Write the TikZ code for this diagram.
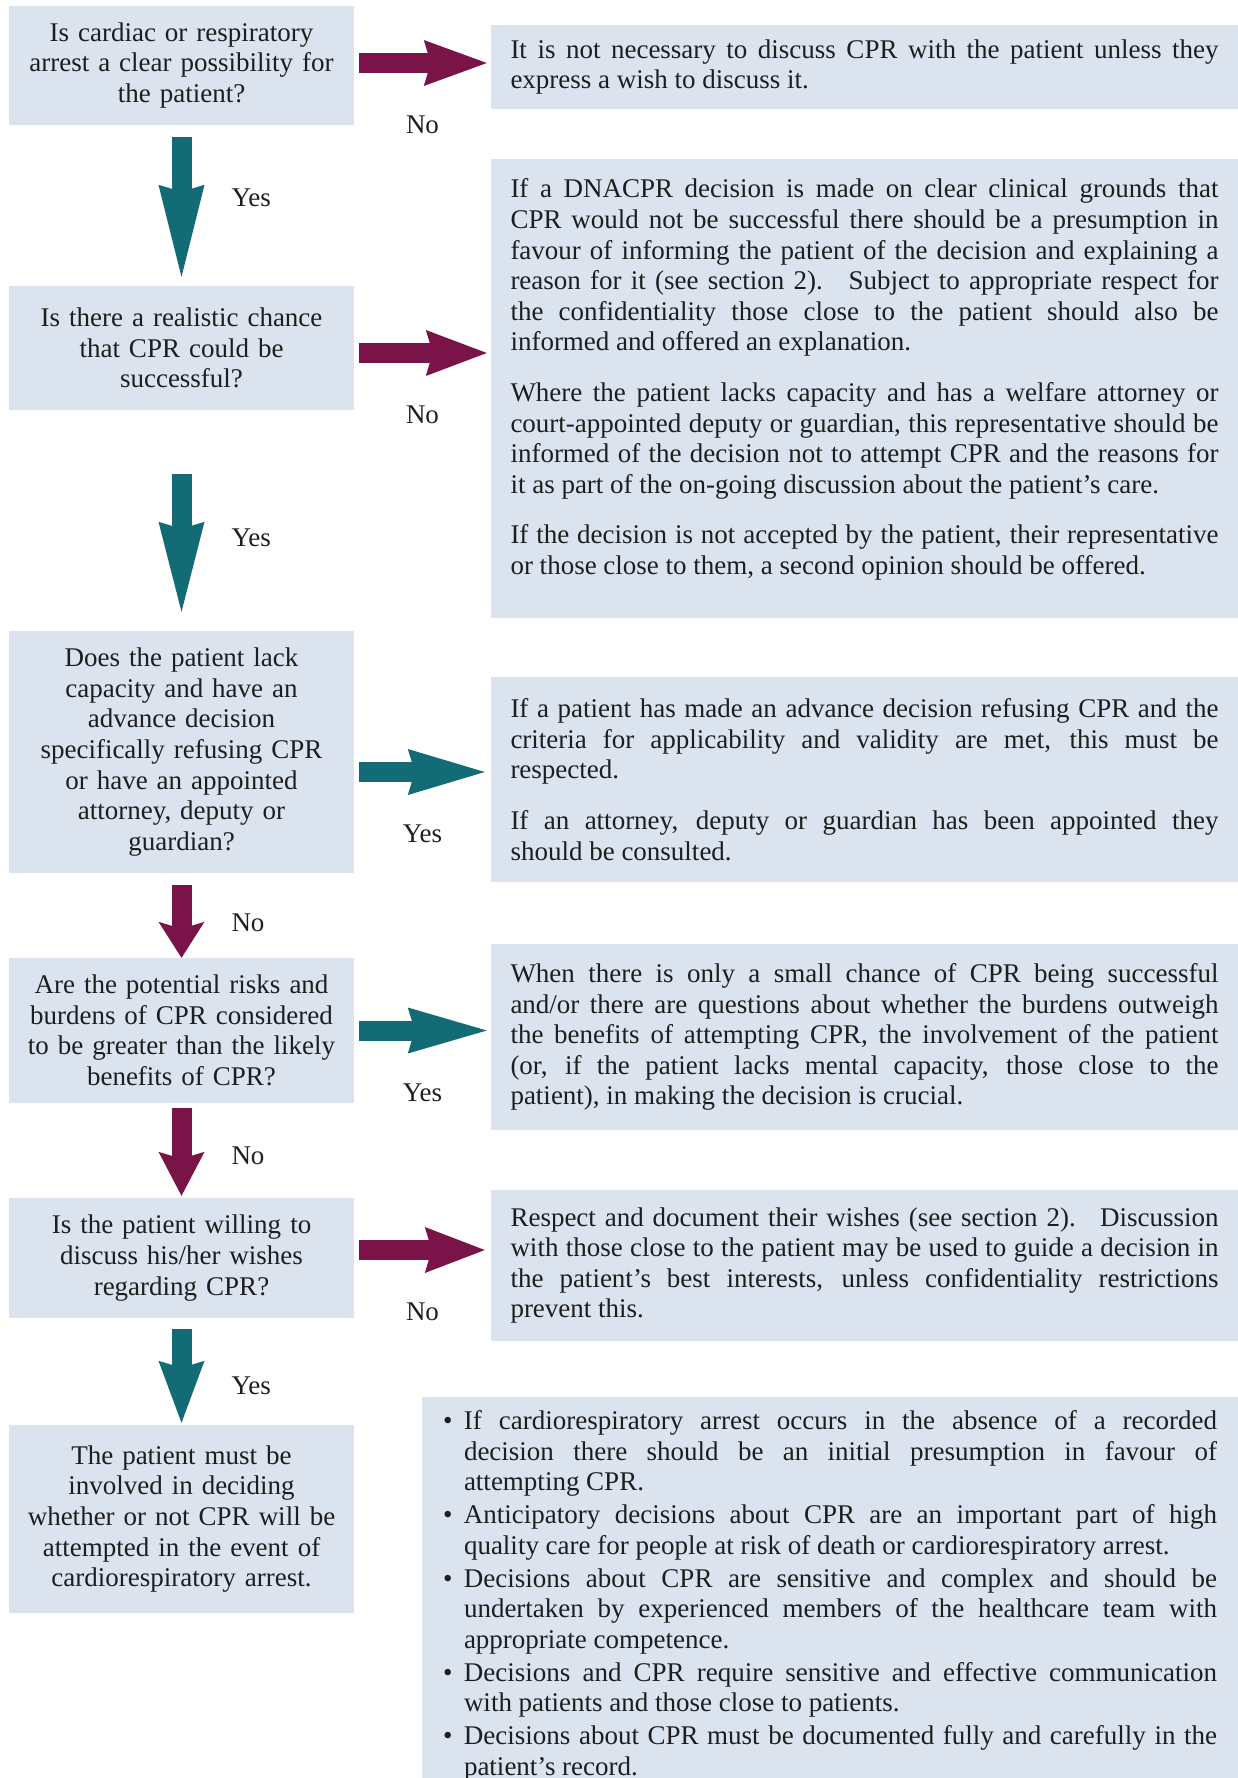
\documentclass[tikz,border=0pt]{standalone}
\usepackage{fontspec}
\setmainfont{Liberation Serif}
\usetikzlibrary{arrows.meta,positioning}
\definecolor{ink}{HTML}{1E1E1E}
\definecolor{boxfill}{HTML}{DBE3EF}
\definecolor{yesline}{HTML}{126B75}
\definecolor{noline}{HTML}{7A1448}
\newcommand{\boxfont}{\fontsize{27}{30.6}\selectfont}
\newcommand{\bitem}{\par\hangindent=21pt\hangafter=1\noindent\makebox[21pt][l]{\textbullet}}
\tikzset{
 every node/.append style={font=\boxfont,text=ink},
 ask/.style={fill=boxfill,text width=330pt,inner xsep=7.5pt,inner ysep=0pt,align=center},
 note/.style={fill=boxfill,text width=708pt,inner xsep=19.5pt,inner ysep=0pt,align=justify,execute at begin node={\setlength{\parskip}{20pt}}},
 word/.style={inner sep=0pt},
 flow/.style={line width=20pt,-{Stealth[length=#1,width=46pt,inset=7pt,line width=0pt]}},
 yesflow/.style={flow=#1,draw=yesline},
 noflow/.style={flow=#1,draw=noline},
}
\begin{document}
\begin{tikzpicture}[x=1pt,y=-1pt]

\useasboundingbox (0,0) rectangle (1238,1778);
% questions down the left
\node[ask,minimum height=119pt] (q1) at (181.5,65.5) {Is cardiac or respiratory\\arrest a clear possibility for\\the patient?};
\node[ask,minimum height=124pt] (q2) at (181.5,348) {Is there a realistic chance\\that CPR could be\\successful?};
\node[ask,minimum height=242pt] (q3) at (181.5,752) {Does the patient lack\\capacity and have an\\advance decision\\specifically refusing CPR\\or have an appointed\\attorney, deputy or\\guardian?};
\node[ask,minimum height=145pt] (q4) at (181.5,1030.5) {Are the potential risks and\\burdens of CPR considered\\to be greater than the likely\\benefits of CPR?};
\node[ask,minimum height=120pt] (q5) at (181.5,1258) {Is the patient willing to\\discuss his/her wishes\\regarding CPR?};
\node[ask,minimum height=188pt] (q6) at (181.5,1519) {The patient must be\\involved in deciding\\whether or not CPR will be\\attempted in the event of\\cardiorespiratory arrest.};
% guidance on the right
\node[note,minimum height=84pt] (r1) at (864.5,67) {It is not necessary to discuss CPR with the patient unless they\linebreak express a wish to discuss it.};
\node[note,minimum height=459pt] (r2) at (864.5,388.5) {If a DNACPR decision is made on clear clinical grounds that\linebreak CPR would not be successful there should be a presumption in\linebreak favour of informing the patient of the decision and explaining a\linebreak reason for it (see section 2). \ Subject to appropriate respect for\linebreak the confidentiality those close to the patient should also be\linebreak informed and offered an explanation.\par
Where the patient lacks capacity and has a welfare attorney or\linebreak court-appointed deputy or guardian, this representative should be\linebreak informed of the decision not to attempt CPR and the reasons for\linebreak it as part of the on-going discussion about the patient's care.\par
If the decision is not accepted by the patient, their representative\linebreak or those close to them, a second opinion should be offered.\par\vspace{18pt}};
\node[note,minimum height=205pt] (r3) at (864.5,779.5) {If a patient has made an advance decision refusing CPR and the\linebreak criteria for applicability and validity are met, this must be\linebreak respected.\par
If an attorney, deputy or guardian has been appointed they\linebreak should be consulted.};
\node[note,minimum height=186pt] (r4) at (864.5,1037) {When there is only a small chance of CPR being successful\linebreak and/or there are questions about whether the burdens outweigh\linebreak the benefits of attempting CPR, the involvement of the patient\linebreak (or, if the patient lacks mental capacity, those close to the\linebreak patient), in making the decision is crucial.};
\node[note,minimum height=151pt] (r5) at (864.5,1265.5) {Respect and document their wishes (see section 2). \ Discussion\linebreak with those close to the patient may be used to guide a decision in\linebreak the patient's best interests, unless confidentiality restrictions\linebreak prevent this.};
\node[note,text width=774pt,inner xsep=21pt,minimum height=378pt,execute at begin node={\setlength{\parskip}{2.3pt}}] (facts) at (830,1589) {%
\bitem If cardiorespiratory arrest occurs in the absence of a recorded\linebreak decision there should be an initial presumption in favour of\linebreak attempting CPR.
\bitem Anticipatory decisions about CPR are an important part of high\linebreak quality care for people at risk of death or cardiorespiratory arrest.
\bitem Decisions about CPR are sensitive and complex and should be\linebreak undertaken by experienced members of the healthcare team with\linebreak appropriate competence.
\bitem Decisions and CPR require sensitive and effective communication\linebreak with patients and those close to patients.
\bitem Decisions about CPR must be documented fully and carefully in the\linebreak patient's record.\par};
% down the questions
\draw[yesflow=92pt,shorten <=12pt,shorten >=9pt] (q1) -- node[word,pos=.45,right=40pt] {Yes} (q2);
\draw[yesflow=90pt,shorten <=64pt,shorten >=19pt] (q2) -- node[word,pos=.58,right=40pt] {Yes} (q3);
\draw[noflow=36pt,shorten <=12pt] (q3) -- node[word,pos=.59,right=40pt] {No} (q4);
\draw[noflow=44pt,shorten <=5pt,shorten >=2pt] (q4) -- node[word,pos=.56,right=40pt] {No} (q5);
\draw[yesflow=62pt,shorten <=11pt,shorten >=2pt] (q5) -- node[word,pos=.63,right=40pt] {Yes} (q6);
% across to the guidance
\path (q1.east) ++(0,-2.5) coordinate (a1);
\path (q2.east) ++(0,5) coordinate (a2);
\path (q3.east) ++(0,20) coordinate (a3);
\path (q4.east) ++(0,0) coordinate (a4);
\path (q5.east) ++(0,-8) coordinate (a5);
\draw[noflow=63pt,shorten <=5pt,shorten >=4pt] (a1) -- node[word,below=43pt] {No} (a1 -| r1.west);
\draw[noflow=61pt,shorten <=5pt,shorten >=4pt] (a2) -- node[word,below=43pt] {No} (a2 -| r2.west);
\draw[yesflow=77pt,shorten <=5pt,shorten >=6pt] (a3) -- node[word,below=43pt] {Yes} (a3 -| r3.west);
\draw[yesflow=79pt,shorten <=5pt,shorten >=4pt] (a4) -- node[word,below=43pt] {Yes} (a4 -| r4.west);
\draw[noflow=60pt,shorten <=5pt,shorten >=6pt] (a5) -- node[word,below=43pt] {No} (a5 -| r5.west);
\end{tikzpicture}
\end{document}
